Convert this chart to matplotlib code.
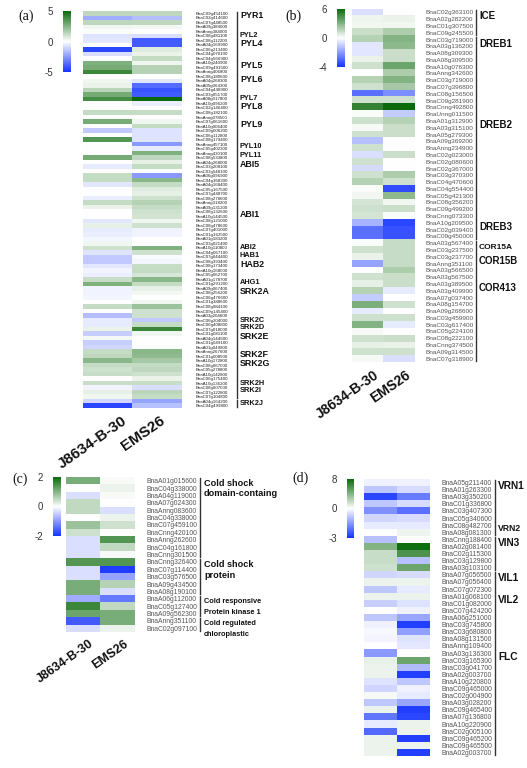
import numpy as np
import matplotlib
matplotlib.use('Agg')
import matplotlib.pyplot as plt
from matplotlib.colors import LinearSegmentedColormap, TwoSlopeNorm
from matplotlib.transforms import blended_transform_factory, ScaledTranslation

plt.rcParams['font.family'] = ['Liberation Sans', 'DejaVu Sans']

W, H = 527, 768
fig = plt.figure(figsize=(W / 100, H / 100), dpi=100)

samples = ['J8634-B-30', 'EMS26']

# ---------------- panel (a) ----------------
a_groups = [('PYR1', 5, 6.4), ('PYL2', 1, 5.3), ('PYL4', 5, 6.4), ('PYL5', 3, 6.4), ('PYL6', 5, 6.4),
            ('PYL7', 1, 5.3), ('PYL8', 4, 6.4), ('PYL9', 5, 6.4), ('PYL10', 2, 5.3), ('PYL11', 2, 5.3),
            ('ABI5', 11, 6.4), ('ABI1', 8, 6.4), ('ABI2', 1, 5.3), ('HAB1', 2, 5.3), ('HAB2', 4, 6.4),
            ('AHG1', 2, 5.3), ('SRK2A', 7, 6.4), ('SRK2C', 1, 5.3), ('SRK2D', 2, 5.3), ('SRK2E', 4, 6.4),
            ('SRK2F', 2, 6.4), ('SRK2G', 5, 6.4), ('SRK2H', 1, 5.3), ('SRK2I', 3, 5.3), ('SRK2J', 2, 5.3)]
a_genes = ['BnaC09g454100', 'BnaC02g414600', 'BnaC07g448500', 'BnaA09g384000', 'BnaAnng384000',
           'BnaC08g481100',
           'BnaC08g112200', 'BnaA04g169900', 'BnaC06g213400', 'BnaC04g070100', 'BnaC04g566900',
           'BnaA10g240900', 'BnaC09g491500', 'BnaAnng406800',
           'BnaC08g180600', 'BnaA04g268300', 'BnaA05g064300', 'BnaC04g448900', 'BnaC03g051700',
           'BnaA08g017800',
           'BnaA10g096200', 'BnaC02g146400', 'BnaC08g182100', 'BnaAnng078500',
           'BnaC07g061600', 'BnaA10g006400', 'BnaC09g006200', 'BnaC06g112800', 'BnaC08g179400',
           'BnaAnng457100', 'BnaC05g402300',
           'BnaAnng430100', 'BnaC08g533800',
           'BnaA04g268000', 'BnaC03g208100', 'BnaC03g548100', 'BnaA06g096900', 'BnaC04g368300',
           'BnaA04g168400', 'BnaC05g167500', 'BnaC07g448700', 'BnaC08g278600', 'BnaAnng318200',
           'BnaA09g131200',
           'BnaC08g132600', 'BnaA10g144500', 'BnaC08g121000', 'BnaC08g478600', 'BnaC07g401000',
           'BnaC01g162500', 'BnaA01g183200', 'BnaC03g021400',
           'BnaA10g110800',
           'BnaC04g067100', 'BnaC07g044400',
           'BnaC08g393400', 'BnaC08g173400', 'BnaA10g168000', 'BnaC05g062700',
           'BnaA01g178700', 'BnaC01g291200',
           'BnaA09g067400', 'BnaC08g256200', 'BnaC06g476600', 'BnaC01g388600', 'BnaC08g084100',
           'BnaC09g145400', 'BnaA03g204600',
           'BnaC06g204000',
           'BnaC06g408800', 'BnaC07g018000',
           'BnaC01g081100', 'BnaA04g144600', 'BnaC01g049100', 'BnaA01g049800',
           'BnaAnng267600', 'BnaC01g008500',
           'BnaA10g172800', 'BnaC08g067000', 'BnaC05g278800', 'BnaA10g142800', 'BnaC06g175400',
           'BnaA10g136200',
           'BnaC08g607000', 'BnaC07g122800', 'BnaC07g104800',
           'BnaA04g164200', 'BnaC04g499800']
a_j = [1.3, -2.0, 1.3, 0.3, 0.1, -0.7, -0.6, 0.0, -4.5, -0.8,
       0.0, 2.6, 2.8, 4.0, 0.0, 0.3, 0.4, 1.4, 2.8, 3.8,
       0.0, 0.0, 1.2, 0.0, 2.8, 0.0, -1.3, 0.0, 3.5, 0.0,
       0.0, 0.0, 2.8, 0.0, -0.5, 0.0, 1.2, 1.2, -0.6, 0.0,
       0.0, -0.4, 1.2, 0.4, 0.0, 0.0, -0.6, 0.5, -0.5, -0.4,
       -0.2, 0.3, 1.0, -0.7, -1.3, -1.3, -0.6, -0.3, -0.4, 1.1,
       2.6, -0.3, -0.3, -0.2, 0.0, 1.2, 0.0, -1.6, -0.5, -0.5,
       0.4, -1.2, 0.2, -1.2, -1.0, 1.2, 1.3, 2.4, 1.2, 1.0,
       1.1, 0.0, 1.1, -0.3, 0.5, 0.3, -1.0, -4.5]
a_e = [1.3, -1.6, 1.3, 0.2, 0.0, -0.8, -4.0, -4.0, 0.6, 0.4,
       1.2, 0.3, 1.5, 1.5, 0.0, -0.6, -3.6, -4.2, -4.0, 5.0,
       -0.4, 0.0, 1.2, 0.0, 0.3, 1.2, -0.7, -0.7, -0.7, -2.5,
       -0.5, 2.6, 1.3, 0.5, 1.2, 0.0, -2.5, 2.4, 1.2, 0.6,
       0.5, 1.0, 1.5, 1.2, 1.0, 0.9, 0.3, 1.0, -0.3, -0.3,
       0.0, 0.0, 2.6, 1.0, -0.1, -0.2, 1.1, 1.2, 0.8, 2.4,
       1.2, 0.5, 0.2, 0.0, 0.3, 2.0, 1.0, 1.0, -1.3, 1.2,
       4.0, 0.3, 0.0, 0.0, 0.1, 2.4, 2.3, 1.8, 1.2, 1.3,
       1.0, 0.4, 1.1, -0.8, 1.4, 1.2, -2.2, -1.5]

# ---------------- panel (b) ----------------
b_groups = [('ICE', 4, 7.0), ('DREB1', 12, 7.0), ('DREB2', 15, 7.0), ('DREB3', 3, 7.0),
            ('COR15A', 2, 6.0), ('COR15B', 4, 7.0), ('COR413', 12, 7.0)]
b_genes = ['BnaC02g363100', 'BnaA02g282200', 'BnaC01g307500', 'BnaC09g245500',
           'BnaC03g719000', 'BnaA03g136200', 'BnaA08g309300', 'BnaA08g309500', 'BnaA10g076300',
           'BnaAnng342600', 'BnaC03g719000', 'BnaC07g396800', 'BnaC08g156500', 'BnaC09g281900',
           'BnaCnng492800', 'BnaUnng011500',
           'BnaA01g312900', 'BnaA03g315100', 'BnaA05g279300', 'BnaA09g369200', 'BnaAnng234900',
           'BnaC02g023000', 'BnaC02g080600', 'BnaC02g367000', 'BnaC03g370300', 'BnaC04g470600',
           'BnaC04g554400', 'BnaC05g421300', 'BnaC08g356200', 'BnaC09g499200', 'BnaCnng073300',
           'BnaA10g209500', 'BnaC02g039400', 'BnaC09g450000',
           'BnaA03g567400', 'BnaC03g237500',
           'BnaC03g237700', 'BnaAnng351100', 'BnaA03g566500', 'BnaA03g567500',
           'BnaA03g389500', 'BnaA03g409900', 'BnaA07g037400', 'BnaA08g154700', 'BnaA09g268600',
           'BnaC03g459900', 'BnaC03g617400', 'BnaC05g224100', 'BnaC08g222100', 'BnaCnng374500',
           'BnaA09g314500', 'BnaC07g318900']
b_j = [-0.6, 0.4, 0.3, 1.3, 1.8, -0.5, -0.5, 0.5, 1.2, 0.0,
       1.8, 1.2, -2.8, 1.2, 5.0, 0.1, 1.2, 0.2, 1.2, -1.2,
       1.2, -0.6, 1.2, -0.7, 1.2, 1.8, 0.1, 0.3, 1.0, 1.2,
       1.0, -1.5, -2.8, -2.8, 0.1, 1.2, 0.5, -1.8, 0.0, 1.2,
       0.6, 1.8, -1.0, 3.2, -0.4, 1.2, 3.0, 0.2, 1.2, 0.6,
       1.2, 0.2]
b_e = [0.0, 0.5, 0.3, 2.0, 3.0, 2.8, 1.3, 1.3, 3.6, 2.0,
       3.0, 2.2, -2.2, 1.2, 6.0, -1.0, 1.8, 1.3, 1.3, 0.0,
       0.0, 1.3, 0.0, 0.0, 2.0, 1.2, -3.5, 2.8, 0.3, 1.3,
       0.1, -3.6, -3.4, -3.4, 1.4, 1.4, 1.4, 1.4, 2.0, 1.3,
       1.3, -0.4, 0.0, 1.2, 0.0, 1.2, -0.4, 0.0, 1.3, 0.5,
       1.2, -0.6]

# ---------------- panel (c) ----------------
c_groups = [(['Cold shock', 'domain-containg'], 11, 6.6), (['Cold shock', 'protein'], 5, 6.6),
            (['Cold responsive', 'Protein kinase 1'], 3, 5.3), (['Cold regulated', 'chloroplastic'], 2, 5.3)]
c_genes = ['BnaA01g015600', 'BnaC04g338000', 'BnaA04g119000', 'BnaA07g024300', 'BnaAnng083600',
           'BnaC04g338000', 'BnaC07g459100', 'BnaCnng420100', 'BnaAnng262600', 'BnaC04g161800',
           'BnaCnng301500', 'BnaCnng326400', 'BnaC07g114400', 'BnaC03g576500', 'BnaA09g434500',
           'BnaA08g190100', 'BnaA06g112000', 'BnaC05g127400', 'BnaA09g562300', 'BnaAnng351100',
           'BnaC02g097100']
c_j = [1.1, 0.0, -0.3, 0.5, 0.5, 0.0, 0.8, 0.4, -0.3, -0.3, -0.3,
       1.4, -0.3, -0.3, 1.1, 1.1, -0.8, 1.6, 1.2, -1.6, -0.3]
c_e = [0.05, 0.15, 0.05, 0.0, -0.3, 0.15, 0.4, 0.0, 1.4, 0.5, 0.05,
       1.4, -1.9, -0.9, 0.6, -0.3, -1.3, 0.5, 1.1, 1.1, 0.15]

# ---------------- panel (d) ----------------
d_groups = [('VRN1', 6, 7.3), ('VRN2', 2, 6.2), ('VIN3', 5, 7.3), ('VIL1', 3, 7.3),
            ('VIL2', 8, 7.3), ('FLC', 15, 7.3)]
d_genes = ['BnaA05g211400', 'BnaA01g263300', 'BnaA03g350200', 'BnaC01g336800', 'BnaC03g407300',
           'BnaC05g340600', 'BnaC08g482700', 'BnaA08g081300', 'BnaCnng188400', 'BnaA02g081400',
           'BnaC02g115300', 'BnaC03g129800', 'BnaA03g103100', 'BnaA07g056500', 'BnaA07g056400',
           'BnaC07g072300', 'BnaA01g068100', 'BnaC01g082000', 'BnaC07g424200', 'BnaA06g251000',
           'BnaC03g745800', 'BnaC03g680800', 'BnaA08g131500', 'BnaAnng109400', 'BnaA03g136300',
           'BnaC03g165300', 'BnaC03g041700', 'BnaA02g003700', 'BnaA10g220800', 'BnaC09g465000',
           'BnaC02g004900', 'BnaA03g028200', 'BnaC09g465400', 'BnaA07g136800', 'BnaA10g220900',
           'BnaC02g005100', 'BnaC09g465200', 'BnaC09g465500', 'BnaA02g003700']
d_j = [-0.2, -0.8, -2.7, -0.8, -1.6, -0.6, -0.3, 0.0, -0.9, 4.0,
       1.8, 1.8, 1.6, -0.6, 0.6, -0.8, 0.6, -0.7, 0.0, -0.8,
       -0.2, -0.1, -0.15, 0.0, -1.5, 0.7, 0.6, 0.6, -0.4, -0.6,
       0.3, -0.8, 0.6, -2.0, -0.3, -2.2, 0.6, 0.6, 0.6]
d_e = [-0.2, -0.5, -1.9, -0.5, -2.1, -0.5, -0.3, 0.5, 0.0, 7.8,
       5.8, -0.9, 4.8, -0.5, 0.6, -0.3, 0.6, -0.4, -0.2, -1.3,
       -2.8, -1.4, -0.4, -0.35, 0.0, 4.8, -1.0, -2.8, -0.8, -0.2,
       -0.3, -1.3, -2.8, -2.7, 0.6, 0.6, -2.8, 0.6, -2.8]

cmap = LinearSegmentedColormap.from_list('bwg', ['#1433ff', '#ffffff', '#0b6a0b'])


def px_axes(l, t, r, b):
    return fig.add_axes([l / W, 1 - b / H, (r - l) / W, (b - t) / H])


def panel(letter, letter_xy, hm, cb, vj, ve, vmin, vmax, genes, groups, gene_fs, gene_col,
          gene_pad, br_x, lab_x, lab_off, xlab_fs, xlab_shifts, line_gap):
    l, t, r, b = hm
    data = np.column_stack([vj, ve])
    norm = TwoSlopeNorm(vcenter=0, vmin=vmin, vmax=vmax)
    ax = px_axes(l, t, r, b)
    im = ax.imshow(data, cmap=cmap, norm=norm, aspect='auto', interpolation='nearest')
    for s in ax.spines.values():
        s.set_visible(False)
    ax.yaxis.tick_right()
    ax.set_yticks(range(len(genes)))
    ax.set_yticklabels(genes, fontsize=gene_fs, color=gene_col)
    ax.tick_params(axis='y', length=0, pad=gene_pad)
    if xlab_fs:
        ax.set_xticks([0, 1])
        ax.set_xticklabels(samples, rotation=35, ha='right', va='top', rotation_mode='anchor',
                           fontweight='bold', fontsize=xlab_fs, color='#111')
        ax.tick_params(axis='x', length=0, pad=4)
        for lab, sh in zip(ax.get_xticklabels(), xlab_shifts):
            lab.set_transform(lab.get_transform() +
                              ScaledTranslation(sh / 100, 0, fig.dpi_scale_trans))
    else:
        ax.set_xticks([])
    tr = blended_transform_factory(ax.transAxes, ax.transData)
    bx = (br_x - l) / (r - l)
    lx = (lab_x - l) / (r - l)
    start = 0
    for name, n, fs in groups:
        y0 = start - 0.5 + 0.12
        y1 = start + n - 0.5 - 0.12
        ax.plot([bx, bx], [y0, y1], transform=tr, clip_on=False, color='#333333', lw=1.0)
        lines = name if isinstance(name, list) else [name]
        if n == 1:
            ax.text(lx, start, lines[0], transform=tr, ha='left', va='center',
                    fontsize=fs, fontweight='bold', color='#111')
        else:
            for i, ln in enumerate(lines):
                ax.text(lx, start - 0.5 + lab_off + i * line_gap, ln, transform=tr,
                        ha='left', va='center', fontsize=fs, fontweight='bold', color='#111')
        start += n
    cl, ct, cr, cbm = cb
    cax = px_axes(cl, ct, cr, cbm)
    cbar = fig.colorbar(im, cax=cax, ticks=[vmin, 0, vmax])
    cbar.outline.set_visible(False)
    cax.yaxis.set_ticks_position('left')
    cbar.set_ticklabels(['%g' % vmin, '0', '%g' % vmax])
    cax.tick_params(length=0, pad=7, labelsize=7, colors='#333333')
    fig.text(letter_xy[0] / W, 1 - letter_xy[1] / H, letter, family=['Liberation Serif'],
             fontsize=10, va='center', ha='left', color='#111')


panel('(a)', (18, 16), (83, 11, 182, 408), (63, 11, 71, 72), a_j, a_e, -5, 5, a_genes, a_groups,
      3.2, '#222222', 10, 237, 240, 1.1, 11, (14, 2), 1.5)
panel('(b)', (285, 16), (352, 9, 414, 362), (337, 9, 345, 67), b_j, b_e, -4, 6, b_genes, b_groups,
      4.6, '#555555', 8, 476, 479, 1.1, 10, (6, 6), 1.5)
panel('(c)', (12, 479), (66, 477, 135, 632), (53, 477, 61, 536), c_j, c_e, -2, 2, c_genes, c_groups,
      4.9, '#555555', 8, 200, 204, 0.85, 9, (6, 6), 1.45)
panel('(d)', (292, 478), (364, 479, 430, 756), (347, 479, 354, 538), d_j, d_e, -3, 8, d_genes, d_groups,
      4.9, '#555555', 8, 495, 498, 1.0, 0, (0, 0), 1.5)

fig.savefig('out.png', dpi=100)
